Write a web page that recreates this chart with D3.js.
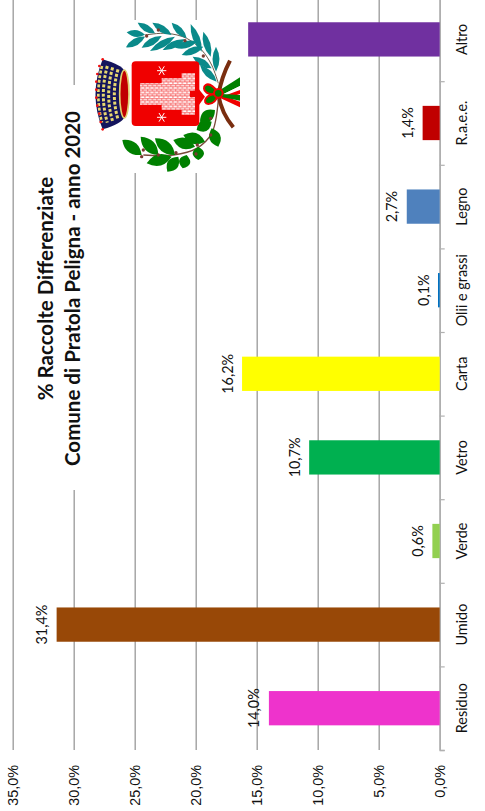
<!DOCTYPE html>
<html lang="en">
    <head>
        <meta charset="utf-8">
        <title>% Raccolte Differenziate</title>
        <script type="text/javascript" src="https://d3js.org/d3.v7.min.js"></script>
        <style>
            html, body { margin: 0; padding: 0; background: white; }
            svg { display: block; font-family: Lato, "Open Sans", sans-serif; fill: #111; }
            .grid line { stroke: #a0a0a0; stroke-width: 1.4; }
            .grid path { display: none; }
            text { font-size: 14.4px; }
            .title { font-size: 20.5px; font-weight: 700; fill: #111; }
        </style>
    </head>
    <body>
        <svg id="chart" width="485" height="811"></svg>
    <script>
        // chart data
        let categories = ["Residuo", "Umido", "Verde", "Vetro", "Carta", "Olii e grassi", "Legno", "R.a.e.e.", "Altro"];
        let values = [14.0, 31.4, 0.6, 10.7, 16.2, 0.14, 2.7, 1.4, 15.7];
        let colors = ["#ee33cc", "#984807", "#92d050", "#00b050", "#ffff00", "#0070c0", "#4f81bd", "#c00000", "#7030a0"];
        let showLabel = [true, true, true, true, true, true, true, true, false];
        let valueTicks = [0, 5, 10, 15, 20, 25, 30, 35];
        let titleLines = ["% Raccolte Differenziate", "Comune di Pratola Peligna - anno 2020"];

        // logo leaves, [tipX, tipY, baseX, baseY], drawn in a 3x box
        let laurel = [[110,97,165,104],[143,68,195,100],[187,68,245,105],[245,68,290,115],[302,72,335,155],
                      [340,95,362,170],[378,140,378,215],[108,142,165,110],[155,143,215,108],[180,153,255,110],
                      [218,150,285,118],[255,143,320,125],[275,165,340,140],[308,170,365,205],[330,195,380,245]];
        let oak = [[97,420,155,465],[152,410,205,465],[195,415,255,465],[250,420,315,440],[280,405,345,425],
                   [170,490,245,470],[232,515,265,470],[278,505,290,465],[325,480,325,440],[385,440,365,385],
                   [320,390,365,365],[330,365,375,330]];

        let svg = d3.select("#chart");
        let locale = d3.formatLocale({decimal: ",", thousands: ".", grouping: [3], currency: ["", ""]});
        let pct = locale.format(".1f");

        let x = d3.scaleLinear().domain([0, 35]).range([439.7, 12.7]);
        let y = d3.scaleBand().domain(categories).range([750, -2.4]).paddingInner(0.59).paddingOuter(0.295);
        let boundary = d3.scaleLinear().domain([0, categories.length]).range([750, -2.4]);

        // gridlines and value labels
        let xAxis = svg.append("g")
            .attr("class", "grid")
            .attr("transform", "translate(0,750)")
            .call(d3.axisBottom(x).tickValues(valueTicks).tickSize(-752.4).tickPadding(0).tickFormat(d => pct(d) + "%"));
        xAxis.selectAll("text")
            .attr("transform", "translate(0,15) rotate(-90)")
            .attr("x", 0).attr("y", 0).attr("dy", "0.35em")
            .style("text-anchor", "end")
            .style("font-family", "inherit")
            .style("font-size", "14.4px")
            .attr("fill", "#111");

        // white boxes of title and logo hide the grid
        svg.append("rect").attr("x", 30).attr("y", 85).attr("width", 55).attr("height", 405).attr("fill", "white");
        svg.append("rect").attr("x", 95).attr("y", 20).attr("width", 145).attr("height", 153).attr("fill", "white");

        // category axis: line and ticks between the bars
        let catAxis = svg.append("g")
            .attr("transform", "translate(439.7,0)")
            .call(d3.axisRight(boundary).tickValues(d3.range(categories.length + 1)).tickSize(5).tickFormat(""));
        catAxis.selectAll("line").attr("stroke", "#b0b0b0").attr("stroke-width", 1.2);
        catAxis.select("path").attr("stroke", "#b0b0b0").attr("stroke-width", 1.5);

        // bars
        svg.selectAll(".bar")
            .data(categories)
            .enter()
            .append("rect")
            .attr("class", "bar")
            .attr("x", (d, i) => x(values[i]))
            .attr("y", d => y(d))
            .attr("width", (d, i) => x(0) - x(values[i]))
            .attr("height", y.bandwidth())
            .attr("fill", (d, i) => colors[i]);

        // data labels
        svg.selectAll(".label")
            .data(categories.filter((d, i) => showLabel[i]))
            .enter()
            .append("text")
            .attr("class", "label")
            .attr("transform", d => "translate(" + (x(values[categories.indexOf(d)]) - 14.5) + "," + (y(d) + y.bandwidth() / 2) + ") rotate(-90)")
            .attr("dy", "0.35em")
            .attr("text-anchor", "middle")
            .text(d => pct(values[categories.indexOf(d)]) + "%");

        // category labels
        svg.selectAll(".cat")
            .data(categories)
            .enter()
            .append("text")
            .attr("class", "cat")
            .attr("transform", d => "translate(462," + (y(d) + y.bandwidth() / 2) + ") rotate(-90)")
            .attr("dy", "0.35em")
            .attr("text-anchor", "middle")
            .text(d => d);

        // title
        svg.selectAll(".title")
            .data(titleLines)
            .enter()
            .append("text")
            .attr("class", "title")
            .attr("transform", (d, i) => "translate(" + (45.5 + i * 27) + ",288.5) rotate(-90)")
            .attr("dy", "0.35em")
            .attr("text-anchor", "middle")
            .text(d => d);

        // logo
        let logo = svg.append("g").attr("transform", "translate(90,0) scale(0.3333)");
        let defs = svg.append("defs");
        let brick = defs.append("pattern").attr("id", "brick").attr("patternUnits", "userSpaceOnUse")
            .attr("width", 14).attr("height", 14);
        brick.append("rect").attr("width", 14).attr("height", 14).attr("fill", "white");
        brick.append("path").attr("d", "M0 2H14M5 2V8M0 8H14M11 8V14").attr("stroke", "#f00000").attr("stroke-width", 1.6).attr("fill", "none");

        function leaf(d, w) {
            let mx = (d[0] + d[2]) / 2, my = (d[1] + d[3]) / 2;
            let dx = d[2] - d[0], dy = d[3] - d[1];
            let len = Math.sqrt(dx * dx + dy * dy);
            let nx = -dy / len * w, ny = dx / len * w;
            return "M" + d[0] + " " + d[1] + "Q" + (mx + nx) + " " + (my + ny) + " " + d[2] + " " + d[3] +
                   "Q" + (mx - nx) + " " + (my - ny) + " " + d[0] + " " + d[1] + "Z";
        }
        let curve = d3.line().curve(d3.curveCatmullRom);

        // branches
        logo.append("path")
            .attr("d", curve([[385,250],[365,195],[335,150],[290,115],[230,100],[165,105]]))
            .attr("fill", "none").attr("stroke", "#6b5a4a").attr("stroke-width", 3);
        logo.append("path")
            .attr("d", curve([[385,300],[365,400],[320,445],[250,465],[160,465]]))
            .attr("fill", "none").attr("stroke", "#7a4a3a").attr("stroke-width", 4);
        logo.selectAll(".laurel").data(laurel).enter().append("path")
            .attr("class", "laurel").attr("d", d => leaf(d, 21)).attr("fill", "#0a8a8a");
        logo.selectAll(".oak").data(oak).enter().append("path")
            .attr("class", "oak").attr("d", d => leaf(d, 34)).attr("fill", "#008000");
        logo.selectAll(".berry").data([[205,90],[170,108],[285,122],[340,168],[160,450],[155,470],[205,465],[258,458],[322,435],[318,462],[362,355],[362,405]]).enter().append("circle")
            .attr("cx", d => d[0]).attr("cy", d => d[1]).attr("r", 5).attr("fill", "#7a3a30");

        // stems and ribbons
        logo.append("path").attr("d", "M385 285Q395 230 420 182").attr("fill", "none").attr("stroke", "#7a2e10").attr("stroke-width", 12);
        logo.append("path").attr("d", "M385 285Q395 340 430 382").attr("fill", "none").attr("stroke", "#7a2e10").attr("stroke-width", 12);
        logo.append("path").attr("d", "M390 270L450 232V258L395 285Z").attr("fill", "#008000");
        logo.append("path").attr("d", "M395 285L450 258V270L398 292Z").attr("fill", "#ffffff");
        logo.append("path").attr("d", "M395 290L450 270V282L400 298Z").attr("fill", "#f00000");
        logo.append("path").attr("d", "M395 285L450 305V322L392 295Z").attr("fill", "#f00000");
        logo.append("path").attr("d", "M395 282L450 285V302L392 290Z").attr("fill", "#008000");
        logo.append("path").attr("d", "M385 278C350 230 330 265 350 278C360 285 375 282 385 278Z").attr("fill", "#008000").attr("stroke", "#f00000").attr("stroke-width", 6);
        logo.append("path").attr("d", "M385 282C345 280 335 310 355 312C370 312 380 300 385 282Z").attr("fill", "#008000").attr("stroke", "#f00000").attr("stroke-width", 6);
        logo.append("circle").attr("cx", 385).attr("cy", 280).attr("r", 13).attr("fill", "#008000").attr("stroke", "#f00000").attr("stroke-width", 6);

        // shield
        logo.append("path").attr("d", "M322 262L345 290L322 322Z").attr("fill", "#f00000");
        logo.append("rect").attr("x", 125).attr("y", 184).attr("width", 203).attr("height", 194).attr("rx", 12).attr("fill", "#f00000");
        logo.append("path")
            .attr("d", "M150 250H215V235H275V220H315V272H300V292H315V345H275V330H215V315H150Z")
            .attr("fill", "url(#brick)");
        logo.selectAll(".star").data([[215,212],[215,352]]).enter().append("path")
            .attr("d", d => "M" + (d[0]-14) + " " + d[1] + "H" + (d[0]+14) +
                "M" + (d[0]-8) + " " + (d[1]-13) + "L" + (d[0]+8) + " " + (d[1]+13) +
                "M" + (d[0]+8) + " " + (d[1]-13) + "L" + (d[0]-8) + " " + (d[1]+13))
            .attr("stroke", "white").attr("stroke-width", 3);

        // crown
        logo.append("path")
            .attr("d", "M38 178Q95 195 103 212L103 352Q95 372 38 388Q-5 285 38 178Z")
            .attr("fill", "#14145c");
        logo.selectAll(".ring").data([["M36 198Q14 285 36 368", 8], ["M52 198Q28 285 52 368", 9], ["M68 202Q44 285 68 364", 9], ["M84 208Q62 285 84 358", 9]]).enter().append("path")
            .attr("d", d => d[0]).attr("fill", "none").attr("stroke", "#e8d870")
            .attr("stroke-width", d => d[1]).attr("stroke-dasharray", "9 5");
        logo.append("ellipse").attr("cx", 103).attr("cy", 282).attr("rx", 14).attr("ry", 72)
            .attr("fill", "#c00000").attr("stroke", "#e0d070").attr("stroke-width", 5);
        logo.selectAll(".pearl").data([[38,178],[28,198],[22,222],[19,245],[19,269],[19,293],[22,317],[28,341],[32,366],[38,388]]).enter().append("circle")
            .attr("cx", d => d[0]).attr("cy", d => d[1]).attr("r", 4).attr("fill", "#f01010");
    </script>
    </body>
</html>
